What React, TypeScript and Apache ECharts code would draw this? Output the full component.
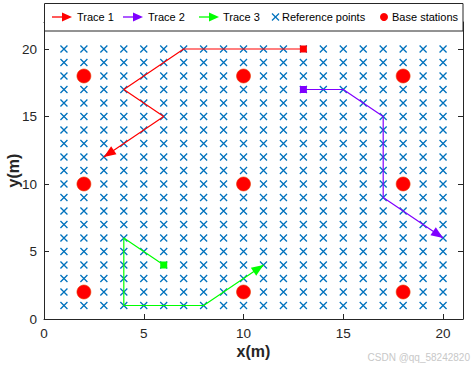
import React, { useEffect, useRef } from "react";
import * as echarts from "echarts";

// Reference grid points (cross product of these)
const refX = [1, 2, 3, 4, 5, 6, 7, 8, 9, 10, 11, 12, 13, 14, 15, 16, 17, 18, 19, 20];
const refY = [1, 2, 3, 4, 5, 6, 7, 8, 9, 10, 11, 12, 13, 14, 15, 16, 17, 18, 19, 20];

// Base stations
const bsX = [2, 10, 18, 2, 10, 18, 2, 10, 18];
const bsY = [2, 2, 2, 10, 10, 10, 18, 18, 18];

// Traces
const trace1X = [13, 7, 4, 6, 3];
const trace1Y = [20, 20, 17, 15, 12];
const trace2X = [13, 15, 17, 17, 20];
const trace2Y = [17, 17, 15, 9, 6];
const trace3X = [6, 4, 4, 8, 11];
const trace3Y = [4, 6, 1, 1, 4];

const traceNames = ["Trace 1", "Trace 2", "Trace 3"];
const traceColors = ["#FF0000", "#7F00FF", "#00FF00"];

const xMin = 0;
const xMax = 21;
const yMin = 0;
const yMax = 22;
const tickStep = 5;

const FONT = "'Liberation Sans', Arial, Helvetica, sans-serif";
const AXIS_COLOR = "#262626";

export default function App() {
  const ref = useRef<HTMLDivElement>(null);

  useEffect(() => {
    document.body.style.margin = "0";
    const chart = echarts.init(ref.current!, null, { renderer: "svg" });

    const refData: number[][] = [];
    refX.forEach((x) => refY.forEach((y) => refData.push([x, y])));
    const bsData = bsX.map((x, i) => [x, bsY[i]]);

    const traces = [
      { xs: trace1X, ys: trace1Y },
      { xs: trace2X, ys: trace2Y },
      { xs: trace3X, ys: trace3Y },
    ];

    const traceSeries = traces.map((t, k) => ({
      name: traceNames[k],
      type: "line",
      data: t.xs.map((x, i) => [x, t.ys[i]]),
      symbol: "none",
      lineStyle: { color: traceColors[k], width: 1.2 },
      itemStyle: { color: traceColors[k] },
      z: 3,
      silent: true,
    }));

    const startData = traces.map((t, k) => ({
      value: [t.xs[0], t.ys[0]],
      itemStyle: { color: traceColors[k], opacity: 1 },
    }));

    const arrowData = traces.map((t) => {
      const n = t.xs.length;
      return [t.xs[n - 2], t.ys[n - 2], t.xs[n - 1], t.ys[n - 1]];
    });

    const axisCommon = {
      type: "value",
      axisLine: { show: true, onZero: false, lineStyle: { color: AXIS_COLOR, width: 1 } },
      axisTick: { show: true, inside: true, length: 5, lineStyle: { color: AXIS_COLOR } },
      splitLine: { show: false },
    };

    // legend layout drawn with graphics
    const ly = 17;
    const legendFont = 11;
    const legendGraphics: any[] = [
      {
        type: "rect",
        shape: { x: 44.5, y: 3.5, width: 418.5, height: 27.5 },
        style: { fill: "#ffffff", stroke: AXIS_COLOR, lineWidth: 1 },
        z: 100,
      },
    ];
    const arrowLegendX = [52, 123, 199];
    const textLegendX = [77, 148, 223];
    traceNames.forEach((nm, k) => {
      const x0 = arrowLegendX[k];
      legendGraphics.push(
        {
          type: "line",
          shape: { x1: x0, y1: ly, x2: x0 + 12, y2: ly },
          style: { stroke: traceColors[k], lineWidth: 1.3 },
          z: 101,
        },
        {
          type: "polygon",
          shape: { points: [[x0 + 10, ly - 4.5], [x0 + 20, ly], [x0 + 10, ly + 4.5]] },
          style: { fill: traceColors[k] },
          z: 101,
        },
        {
          type: "text",
          x: textLegendX[k],
          y: ly,
          style: { text: nm, fontSize: legendFont, fontFamily: FONT, fill: "#000", verticalAlign: "middle" },
          z: 101,
        }
      );
    });
    legendGraphics.push(
      {
        type: "line",
        shape: { x1: 272, y1: ly - 3.5, x2: 279, y2: ly + 3.5 },
        style: { stroke: "#0072BD", lineWidth: 1.2 },
        z: 101,
      },
      {
        type: "line",
        shape: { x1: 272, y1: ly + 3.5, x2: 279, y2: ly - 3.5 },
        style: { stroke: "#0072BD", lineWidth: 1.2 },
        z: 101,
      },
      {
        type: "text",
        x: 282,
        y: ly,
        style: { text: "Reference points", fontSize: legendFont, fontFamily: FONT, fill: "#000", verticalAlign: "middle" },
        z: 101,
      },
      {
        type: "circle",
        shape: { cx: 384, cy: ly, r: 4 },
        style: { fill: "#FF0000" },
        z: 101,
      },
      {
        type: "text",
        x: 392,
        y: ly,
        style: { text: "Base stations", fontSize: legendFont, fontFamily: FONT, fill: "#000", verticalAlign: "middle" },
        z: 101,
      },
      {
        type: "text",
        x: 470,
        y: 357,
        style: { text: "CSDN @qq_58242820", fontSize: 10, fontFamily: FONT, fill: "#c8c8c8", verticalAlign: "middle", align: "right" },
        z: 101,
      }
    );

    const option: any = {
      animation: false,
      backgroundColor: "#ffffff",
      textStyle: { fontFamily: FONT },
      grid: { left: 44, right: 13, top: 22, bottom: 50, containLabel: false, outerBoundsMode: "none" },
      xAxis: [
        {
          ...axisCommon,
          min: xMin,
          max: xMax,
          interval: tickStep,
          position: "bottom",
          axisLabel: { margin: 7, fontSize: 13.5, color: AXIS_COLOR, fontFamily: FONT, showMaxLabel: false },
          name: "x(m)",
          nameLocation: "middle",
          nameGap: 24,
          nameMoveOverlap: false,
          nameTextStyle: { fontSize: 16, fontWeight: "bold", color: AXIS_COLOR, fontFamily: FONT },
        },
        {
          ...axisCommon,
          min: xMin,
          max: xMax,
          interval: tickStep,
          position: "top",
          axisLabel: { show: false },
        },
      ],
      yAxis: [
        {
          ...axisCommon,
          min: yMin,
          max: yMax,
          interval: tickStep,
          position: "left",
          axisLabel: { margin: 7, fontSize: 13.5, color: AXIS_COLOR, fontFamily: FONT, showMaxLabel: false },
          name: "y(m)",
          nameLocation: "middle",
          nameGap: 23,
          nameMoveOverlap: false,
          nameTextStyle: { fontSize: 16, fontWeight: "bold", color: AXIS_COLOR, fontFamily: FONT },
        },
        {
          ...axisCommon,
          min: yMin,
          max: yMax,
          interval: tickStep,
          position: "right",
          axisLabel: { show: false },
        },
      ],
      series: [
        {
          name: "Reference points",
          type: "scatter",
          data: refData,
          symbol: "path://M0,0L10,10M10,0L0,10",
          symbolSize: 7,
          itemStyle: { color: "#0072BD", borderColor: "#0072BD", borderWidth: 1.3, opacity: 1 },
          z: 2,
          silent: true,
        },
        ...traceSeries,
        {
          name: "Starts",
          type: "scatter",
          data: startData,
          symbol: "rect",
          symbolSize: 7,
          itemStyle: { opacity: 1 },
          z: 4,
          silent: true,
        },
        {
          name: "Arrows",
          type: "custom",
          data: arrowData,
          z: 4,
          silent: true,
          renderItem: (params: any, api: any) => {
            const p1 = api.coord([api.value(0), api.value(1)]);
            const p2 = api.coord([api.value(2), api.value(3)]);
            const dx = p2[0] - p1[0];
            const dy = p2[1] - p1[1];
            const len = Math.hypot(dx, dy) || 1;
            const ux = dx / len;
            const uy = dy / len;
            const L = 12;
            const W = 4.8;
            const bx = p2[0] - ux * L;
            const by = p2[1] - uy * L;
            return {
              type: "polygon",
              shape: {
                points: [
                  [p2[0], p2[1]],
                  [bx - uy * W, by + ux * W],
                  [bx + uy * W, by - ux * W],
                ],
              },
              style: { fill: traceColors[params.dataIndex] },
            };
          },
        },
        {
          name: "Base stations",
          type: "scatter",
          data: bsData,
          symbol: "circle",
          symbolSize: 14,
          itemStyle: { color: "#FF0000", borderColor: "#E83A00", borderWidth: 0.6, opacity: 1 },
          z: 5,
          silent: true,
        },
      ],
      graphic: legendGraphics,
    };

    chart.setOption(option);
    return () => chart.dispose();
  }, []);

  return <div ref={ref} style={{ width: 476, height: 369 }} />;
}
